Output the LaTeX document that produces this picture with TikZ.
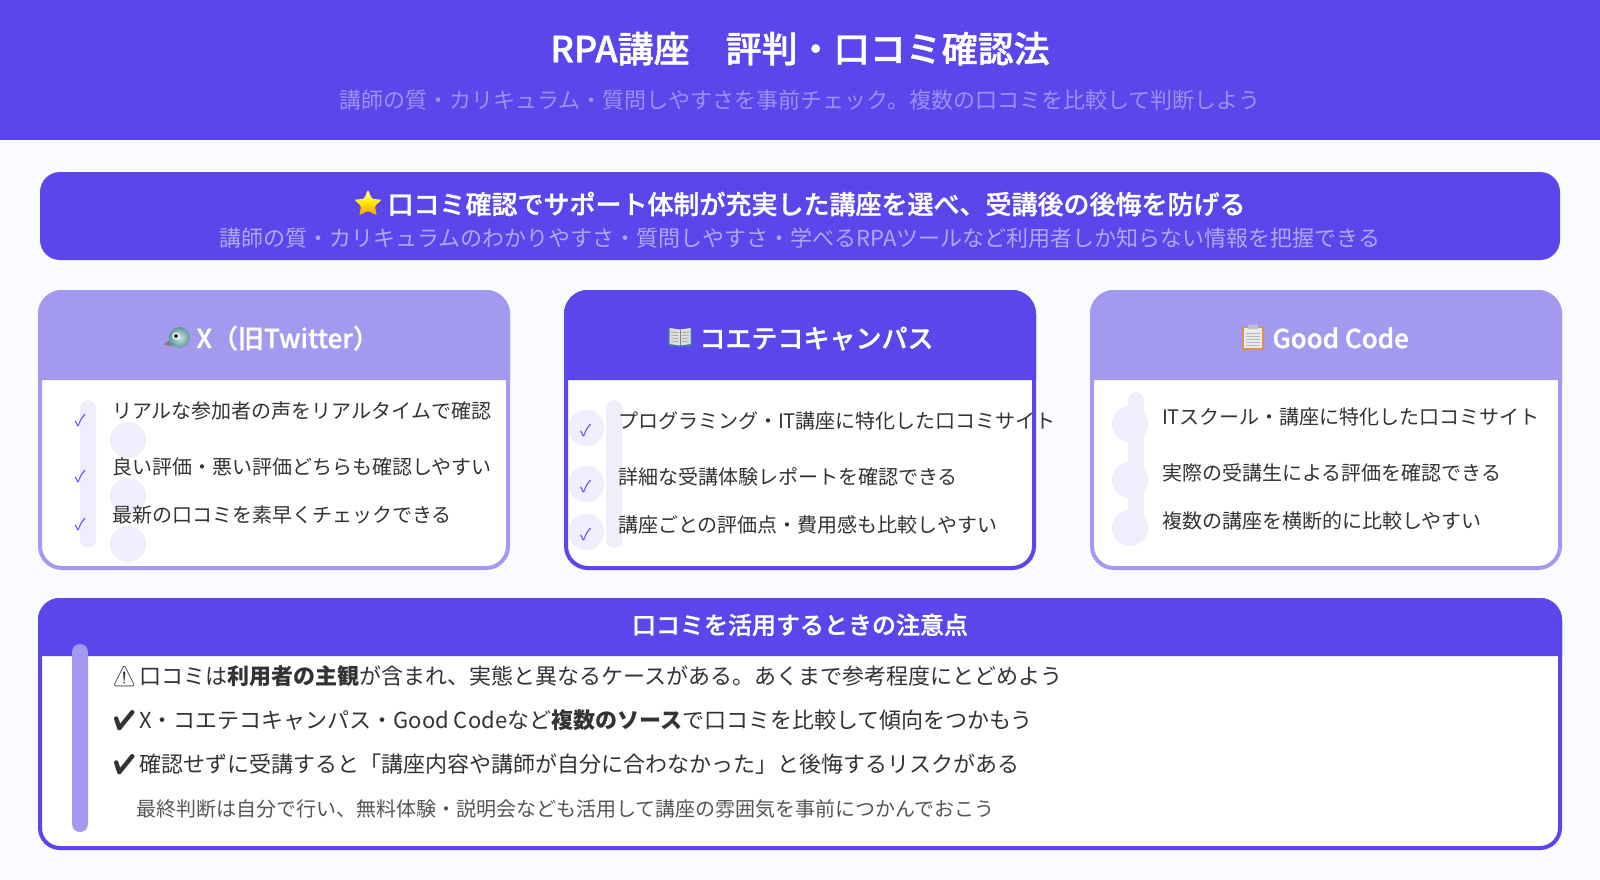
\documentclass[tikz,border=0pt]{standalone}
\usepackage{fontspec}
\setmainfont{Noto Sans CJK JP}
\newfontfamily\symfont{Noto Emoji}
\newfontfamily\headfont{Noto Sans CJK JP Medium}[FakeBold=1.1]
\usetikzlibrary{shapes.geometric}
\definecolor{pagebg}{HTML}{FAFAFF}
\definecolor{main}{HTML}{5B46EB}
\definecolor{soft}{HTML}{A39AF0}
\definecolor{pale}{HTML}{F0EEFD}
\definecolor{ink}{HTML}{333333}
\definecolor{ink2}{HTML}{555555}
\definecolor{subone}{HTML}{9C91F1}
\definecolor{subtwo}{HTML}{B0A8F5}
\tikzset{
  txtbase/.style={inner sep=0,outer sep=0},
  titletxt/.style={txtbase,anchor=base,text=white,font=\fontsize{36}{40}\headfont},
  bannerhead/.style={txtbase,anchor=base west,text=white,font=\fontsize{26}{30}\headfont},
  cardhead/.style={txtbase,anchor=base west,text=white,font=\fontsize{26}{30}\headfont},
  subline/.style={txtbase,anchor=base,font=\fontsize{22}{26}\selectfont},
  itemtxt/.style={txtbase,anchor=base west,text=ink,font=\fontsize{20}{24}\selectfont},
  tickmark/.style={txtbase,anchor=base,text=main,font=\fontsize{16}{20}\selectfont},
  notetxt/.style={txtbase,anchor=base west,text=ink,font=\fontsize{22}{26}\selectfont},
  notesmall/.style={txtbase,anchor=base west,text=ink2,font=\fontsize{20}{24}\selectfont},
  notemark/.style={txtbase,anchor=base west,text=ink,font=\fontsize{20}{24}\symfont},
  dotdisc/.style={fill=pale,circle,minimum size=36pt,txtbase},
}
\newcommand{\cardframe}[4]{% x0, x1, header colour, border colour
  \fill[white,rounded corners=22pt] (#1+2,292) rectangle (#2-2,568);
  \fill[#3] (#1,380) [rounded corners=24pt] -- (#1,290) -- (#2,290) [sharp corners] -- (#2,380) -- cycle;
  \draw[#4,line width=4pt,rounded corners=22pt] (#1+2,292) rectangle (#2-2,568);
}
\begin{document}
\begin{tikzpicture}[x=1pt,y=-1pt]
\useasboundingbox (0,0) rectangle (1600,880);
\fill[pagebg] (0,0) rectangle (1600,880);
% page header
\fill[main] (0,0) rectangle (1600,140);
\node[titletxt] (maintitle) at (800,62.3) {RPA講座　評判・口コミ確認法};
\node[subline,text=subone] (mainsub) at (800,109) {講師の質・カリキュラム・質問しやすさを事前チェック。複数の口コミを比較して判断しよう};
% banner
\fill[main,rounded corners=20pt] (40,172) rectangle (1560,260);
\shade[top color=yellow!35!white,bottom color=orange!85!yellow,middle color=yellow!85!orange,rounded corners=1.6pt]
  (368,189.5) -- (372,199) -- (382,199.6) -- (374.6,206.2) -- (377,215.5) -- (368,210.8) -- (359,215.5) -- (361.4,206.2) -- (354,199.6) -- (364,199) -- cycle;
\node[bannerhead] (bannerhead) at (387.5,214) {口コミ確認でサポート体制が充実した講座を選べ、受講後の後悔を防げる};
\node[subline,text=subtwo] (bannersub) at (800,246) {講師の質・カリキュラムのわかりやすさ・質問しやすさ・学べるRPAツールなど利用者しか知らない情報を把握できる};
% card 1
\cardframe{38}{510}{soft}{soft}
\fill[pale,rounded corners=8pt] (80,400) rectangle (96,548);
\node[dotdisc] (c1a) at (128,440) {};
\node[dotdisc] (c1b) at (128,496) {};
\node[dotdisc] (c1c) at (128,544) {};
\fill[black!50,rounded corners=1pt] (172,338) -- (163.5,344.5) -- (172,346.5) -- cycle;
\shade[inner color=teal!20!white,outer color=teal!55!gray!80!white] (179.5,337.5) circle[radius=10.5];
\fill[white] (176,336) circle[radius=3.6];
\fill[black!85] (176,336) circle[radius=2];
\node[cardhead] (h1) at (196.5,348) {X（旧Twitter）};
\node[tickmark] (t1a) at (80,426) {✓};
\node[tickmark] (t1b) at (80,482) {✓};
\node[tickmark] (t1c) at (80,530) {✓};
\node[itemtxt] (i1a) at (112,418.6) {リアルな参加者の声をリアルタイムで確認};
\node[itemtxt] (i1b) at (112,474.6) {良い評価・悪い評価どちらも確認しやすい};
\node[itemtxt] (i1c) at (112,522.6) {最新の口コミを素早くチェックできる};
% card 2
\cardframe{564}{1036}{main}{main}
\fill[pale,rounded corners=8pt] (606,400) rectangle (622,548);
\node[dotdisc] (c2a) at (586,428) {};
\node[dotdisc] (c2b) at (586,484) {};
\node[dotdisc] (c2c) at (586,532) {};
\fill[cyan!45!blue!70!gray,rounded corners=0.8pt] (668,329) rectangle (692,346.5);
\fill[black!12] (669.5,328) -- (680,329.5) -- (690.5,328) -- (690.5,344) -- (680,345.5) -- (669.5,344) -- cycle;
\draw[gray,line width=0.6pt] (680,329.5) -- (680,345.5);
\foreach \ly in {332,335,338,341}{\draw[gray!70,line width=0.8pt] (671,\ly) -- (678,\ly+0.6) (682,\ly+0.6) -- (689,\ly);}
\node[cardhead] (h2) at (699.5,348) {コエテコキャンパス};
\node[tickmark] (t2a) at (585.5,436) {✓};
\node[tickmark] (t2b) at (585.5,492) {✓};
\node[tickmark] (t2c) at (585.5,540) {✓};
\node[itemtxt] (i2a) at (618,428.4) {プログラミング・IT講座に特化した口コミサイト};
\node[itemtxt] (i2b) at (618,484.4) {詳細な受講体験レポートを確認できる};
\node[itemtxt] (i2c) at (618,532.4) {講座ごとの評価点・費用感も比較しやすい};
% card 3
\cardframe{1090}{1562}{soft}{soft}
\fill[pale,rounded corners=8pt] (1128,392) rectangle (1144,540);
\node[dotdisc] (c3a) at (1130,424) {};
\node[dotdisc] (c3b) at (1130,480) {};
\node[dotdisc] (c3c) at (1130,528) {};
\fill[brown!70!orange!85!white,rounded corners=1.2pt] (1242,326.5) rectangle (1264,350);
\fill[black!8] (1244,328) rectangle (1262,348);
\foreach \ly in {333,336,339,342,345}{\draw[black!28,line width=1pt] (1246,\ly) -- (1260,\ly);}
\fill[soft!65!gray!60!white,rounded corners=0.8pt] (1248,324.5) rectangle (1258,329);
\node[cardhead] (h3) at (1272.5,348) {Good Code};
\node[itemtxt] (i3a) at (1162,424.6) {ITスクール・講座に特化した口コミサイト};
\node[itemtxt] (i3b) at (1162,480.6) {実際の受講生による評価を確認できる};
\node[itemtxt] (i3c) at (1162,528.6) {複数の講座を横断的に比較しやすい};
% notes panel
\fill[white,rounded corners=20pt] (40,600) rectangle (1560,848);
\fill[main] (38,656) [rounded corners=22pt] -- (38,598) -- (1562,598) [sharp corners] -- (1562,656) -- cycle;
\draw[main,line width=4pt,rounded corners=20pt] (40,600) rectangle (1560,848);
\node[txtbase,anchor=base,text=white,font=\fontsize{24}{28}\headfont] (noteshead) at (800,634) {口コミを活用するときの注意点};
\fill[soft,rounded corners=8pt] (72,644) rectangle (88,832);
\node[notemark] (m1) at (111.5,683) {⚠};
\node[notetxt] (n1) at (139,684.4) {口コミは\textbf{利用者の主観}が含まれ、実態と異なるケースがある。あくまで参考程度にとどめよう};
\node[notemark] (m2) at (111.5,727) {✔};
\node[notetxt] (n2) at (139,728.4) {X・コエテコキャンパス・Good Codeなど\textbf{複数のソース}で口コミを比較して傾向をつかもう};
\node[notemark] (m3) at (111.5,771) {✔};
\node[notetxt] (n3) at (139,772.4) {確認せずに受講すると「講座内容や講師が自分に合わなかった」と後悔するリスクがある};
\node[notesmall] (n4) at (136.5,816.6) {最終判断は自分で行い、無料体験・説明会なども活用して講座の雰囲気を事前につかんでおこう};
\end{tikzpicture}
\end{document}
